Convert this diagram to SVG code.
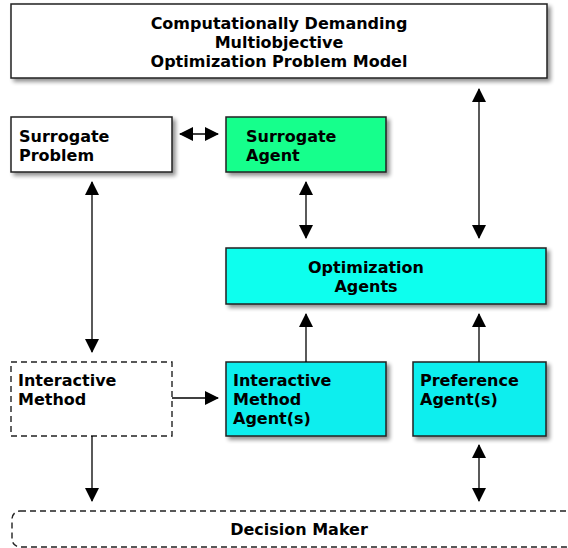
<svg xmlns="http://www.w3.org/2000/svg" width="568" height="548" viewBox="0 0 568 548">
<defs>
<filter id="sh" x="-10%" y="-10%" width="130%" height="140%">
<feGaussianBlur in="SourceAlpha" stdDeviation="2"/>
<feOffset dx="3" dy="3" result="b"/>
<feComponentTransfer><feFuncA type="linear" slope="0.45"/></feComponentTransfer>
<feMerge><feMergeNode/><feMergeNode in="SourceGraphic"/></feMerge>
</filter>
<marker id="ah" viewBox="0 0 14 14" refX="13" refY="7" markerWidth="14" markerHeight="14" markerUnits="userSpaceOnUse" orient="auto-start-reverse">
<path d="M0,0 L14,7 L0,14 Z" fill="#000"/>
</marker>
</defs>
<style>
.box{stroke:#222;stroke-width:1.5;filter:url(#sh)}
.dash{fill:#fff;stroke:#222;stroke-width:1.4;stroke-dasharray:6,4}
text{font-family:"DejaVu Sans",Verdana,sans-serif;font-weight:bold;font-size:16px;fill:#000}
.c{text-anchor:middle}
.ln{stroke:#000;stroke-width:1.3;fill:none}
</style>
<g id="model">
<rect class="box" x="11" y="4" width="536" height="74" fill="#fff"/>
<text class="c" x="279" y="29">Computationally Demanding</text>
<text class="c" x="279" y="48">Multiobjective</text>
<text class="c" x="279" y="67">Optimization Problem Model</text>
</g>
<g id="surrogate-problem">
<rect class="box" x="11" y="117" width="161" height="55" fill="#fff"/>
<text x="19" y="142">Surrogate</text>
<text x="19" y="161">Problem</text>
</g>
<g id="surrogate-agent">
<rect class="box" x="226" y="117" width="160" height="55" fill="#14ff8c"/>
<text x="246" y="142">Surrogate</text>
<text x="246" y="161">Agent</text>
</g>
<g id="optimization-agents">
<rect class="box" x="226" y="248" width="320" height="56" fill="#10ffee"/>
<text class="c" x="366" y="273">Optimization</text>
<text class="c" x="366" y="292">Agents</text>
</g>
<g id="interactive-method">
<rect class="dash" x="11" y="362" width="161" height="74"/>
<text x="18" y="386">Interactive</text>
<text x="18" y="405">Method</text>
</g>
<g id="interactive-method-agents">
<rect class="box" x="226" y="362" width="160" height="74" fill="#10eeee"/>
<text x="233" y="386">Interactive</text>
<text x="233" y="405">Method</text>
<text x="233" y="424">Agent(s)</text>
</g>
<g id="preference-agents">
<rect class="box" x="413" y="362" width="133" height="74" fill="#10eeee"/>
<text x="420" y="386">Preference</text>
<text x="420" y="405">Agent(s)</text>
</g>
<g id="decision-maker">
<rect class="dash" x="12" y="511" width="562" height="36" rx="8"/>
<text class="c" x="299" y="535">Decision Maker</text>
</g>
<g id="connectors">
<line class="ln" x1="479" y1="89" x2="479" y2="238" marker-start="url(#ah)" marker-end="url(#ah)"/>
<line class="ln" x1="180" y1="134" x2="218" y2="134" marker-start="url(#ah)" marker-end="url(#ah)"/>
<line class="ln" x1="306" y1="182" x2="306" y2="238" marker-start="url(#ah)" marker-end="url(#ah)"/>
<line class="ln" x1="92" y1="182" x2="92" y2="352" marker-start="url(#ah)" marker-end="url(#ah)"/>
<line class="ln" x1="172" y1="398" x2="218" y2="398" marker-end="url(#ah)"/>
<line class="ln" x1="306" y1="362" x2="306" y2="314" marker-end="url(#ah)"/>
<line class="ln" x1="479" y1="362" x2="479" y2="314" marker-end="url(#ah)"/>
<line class="ln" x1="92" y1="436" x2="92" y2="501" marker-end="url(#ah)"/>
<line class="ln" x1="479" y1="445" x2="479" y2="501" marker-start="url(#ah)" marker-end="url(#ah)"/>
</g>
</svg>
